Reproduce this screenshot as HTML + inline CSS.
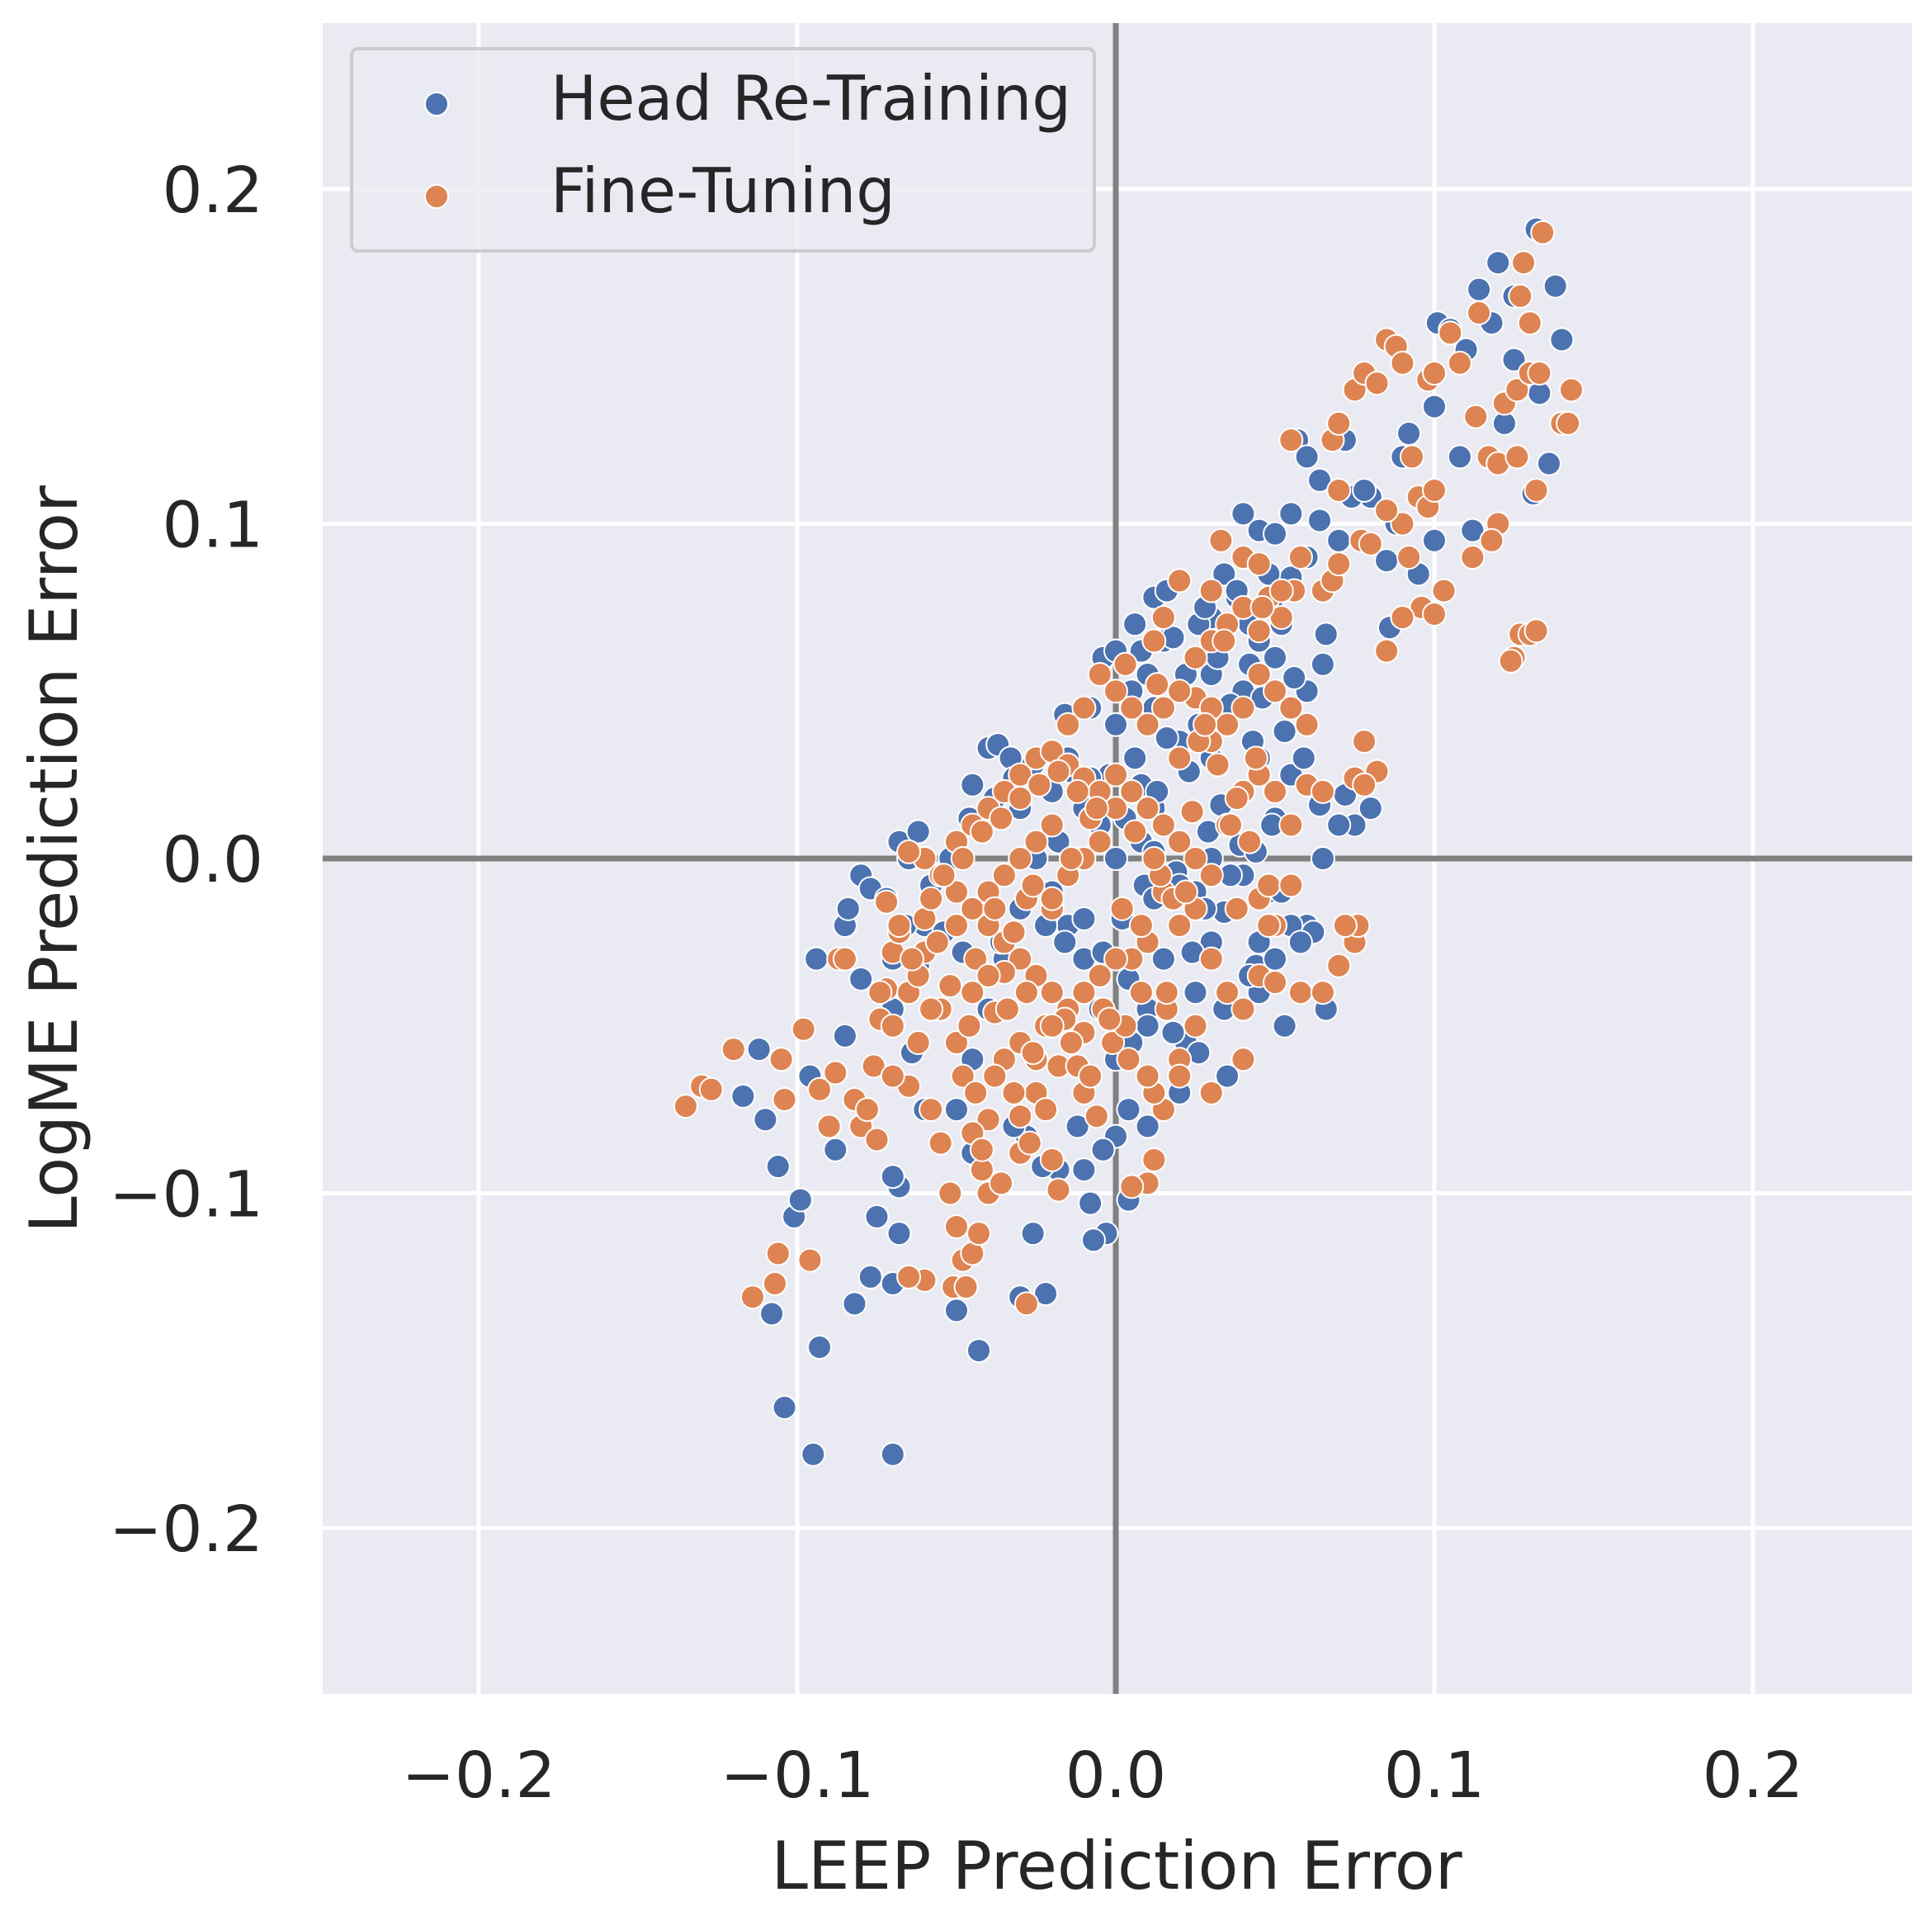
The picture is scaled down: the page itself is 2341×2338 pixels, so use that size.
<!DOCTYPE html>
<html><head><meta charset="utf-8"><style>
html,body{margin:0;padding:0;background:#fff;}
svg{display:block;font-family:"DejaVu Sans","Liberation Sans",sans-serif;}
</style></head><body>
<svg id="chart" width="2341" height="2338" viewBox="0 0 2341 2338" xmlns="http://www.w3.org/2000/svg">
<rect x="391" y="28" width="1926" height="2024" fill="#eaeaf2"/>
<g id="grid"></g>
<g id="zero"></g>
<g id="pts"></g>
<g id="ticks" fill="#262626" font-size="77"></g>
<text x="1353" y="2288" text-anchor="middle" font-size="80" fill="#262626">LEEP Prediction Error</text>
<text transform="translate(93,1041) rotate(-90)" text-anchor="middle" font-size="80" fill="#262626">LogME Prediction Error</text>
<g>
<rect x="426" y="59" width="900" height="245" rx="8" fill="#eaeaf2" fill-opacity="0.8" stroke="#cccccc" stroke-width="4"/>
<circle cx="529" cy="126" r="14" fill="#4c72b0" stroke="#fff" stroke-width="2"/>
<text x="667" y="145" font-size="75" fill="#262626">Head Re-Training</text>
<circle cx="529" cy="238" r="14" fill="#dd8452" stroke="#fff" stroke-width="2"/>
<text x="667" y="257" font-size="75" fill="#262626">Fine-Tuning</text>
</g>
</svg>
<script>
const xTicks=[-0.2,-0.1,0.0,0.1,0.2];
const yTicks=[-0.2,-0.1,0.0,0.1,0.2];
const headX=[-0.07,-0.095,-0.104,-0.093,-0.043,-0.108,-0.082,-0.05,-0.03,-0.022,-0.07,-0.077,-0.026,-0.068,-0.101,-0.099,-0.106,-0.075,-0.068,-0.07,-0.117,-0.11,-0.088,-0.096,-0.085,-0.112,-0.08,-0.094,-0.085,-0.084,-0.08,-0.077,-0.068,-0.062,-0.045,-0.04,-0.037,-0.033,-0.016,-0.004,0.0,0.006,0.012,0.016,0.02,0.03,0.038,0.04,0.04,0.045,0.05,0.055,0.057,0.06,0.064,0.072,0.064,0.08,0.074,0.085,0.09,0.092,0.1,0.101,0.105,0.11,0.114,0.118,0.12,0.125,0.125,0.132,0.138,0.14,0.133,0.131,0.1,0.095,0.112,0.086,0.066,0.065,0.06,0.064,0.072,0.08,0.075,0.065,0.06,0.055,0.048,0.053,0.045,0.035,0.03,0.02,0.01,0.004,0.0,-0.004,0.004,-0.003,-0.007,-0.008,-0.01,-0.018,-0.023,-0.028,-0.032,-0.045,-0.05,-0.06,-0.064,-0.07,-0.07,-0.06,-0.055,-0.05,-0.045,-0.03,-0.02,-0.015,-0.008,0.0,0.005,0.01,0.015,0.02,0.025,0.03,0.035,0.04,0.045,0.05,0.045,0.04,0.035,0.03,0.025,0.02,0.015,0.01,0.005,0.0,-0.005,-0.01,-0.015,-0.02,-0.025,-0.03,-0.035,-0.04,-0.045,-0.012,0.025,0.03,0.045,0.05,0.055,0.06,0.012,0.008,0.0,-0.005,-0.01,-0.018,-0.04,-0.065,0.03,0.02,0.008,-0.002,0.015,0.022,0.04,0.05,0.065,0.062,0.07,0.034,0.026,0.042,0.049,0.055,0.06,0.07,0.078,0.088,0.108,0.122,0.136,
0.008,0.018,0.028,0.038,0.048,0.012,0.022,0.032,0.042,0.052,0.006,0.016,0.026,0.036,0.046,0.056,0.003,0.013,0.023,0.033,0.043,0.053,0.009,0.019,0.029,0.039,0.049,0.059,0.002,0.012,0.024,0.034,0.044,-0.072,-0.066,-0.058,-0.052,-0.046,-0.038,-0.032,-0.026,-0.02,-0.014,-0.008,-0.062,-0.054,-0.048,-0.042,-0.036,-0.028,-0.022,-0.016,-0.01,-0.004,0.004,0.01,0.018,0.026,0.034,0.042,0.05,0.058,0.066,0.012,0.02,0.028,0.036,0.044,0.052];
const headY=[-0.178,-0.178,-0.164,-0.146,-0.147,-0.136,-0.133,-0.135,-0.131,-0.13,-0.127,-0.125,-0.112,-0.112,-0.107,-0.102,-0.092,-0.107,-0.098,-0.095,-0.071,-0.078,-0.087,-0.065,-0.053,-0.057,-0.036,-0.03,-0.02,-0.015,-0.005,-0.009,0.005,0.008,0.022,0.033,0.034,0.03,0.043,0.06,0.062,0.07,0.078,0.08,0.083,0.072,0.078,0.09,0.103,0.098,0.097,0.103,0.125,0.12,0.113,0.125,0.101,0.108,0.108,0.089,0.12,0.127,0.135,0.16,0.158,0.152,0.17,0.16,0.178,0.168,0.149,0.188,0.171,0.155,0.139,0.109,0.095,0.085,0.098,0.069,0.067,0.058,0.04,0.016,0.019,0.015,0.01,0.0,-0.02,-0.02,-0.01,-0.05,-0.04,-0.065,-0.07,-0.07,-0.08,-0.075,-0.083,-0.087,-0.102,-0.112,-0.114,-0.103,-0.093,-0.093,-0.092,-0.083,-0.08,-0.088,-0.075,-0.075,-0.058,-0.045,-0.03,-0.02,-0.005,0.005,0.01,0.015,0.02,0.03,0.045,0.04,0.05,0.055,0.065,0.05,0.06,0.055,0.04,0.05,0.065,0.06,0.03,0.02,0.01,0.0,-0.01,-0.02,-0.03,-0.045,-0.055,-0.06,-0.045,-0.03,-0.02,-0.01,0.0,-0.015,-0.03,-0.045,-0.06,-0.08,-0.04,-0.025,-0.025,0.012,0.025,0.05,0.015,0.005,0.0,0.01,0.015,0.005,-0.02,0.0,0.03,0.035,0.022,0.025,-0.005,-0.055,-0.005,-0.03,-0.04,-0.022,0.01,0.085,0.07,0.07,0.077,0.084,0.09,0.095,0.11,0.1,0.12,0.13,0.118,
0.062,0.066,0.075,0.08,0.085,0.045,0.055,0.06,0.058,0.07,0.03,0.036,0.04,0.046,0.048,0.054,0.012,0.02,0.026,0.016,0.035,0.038,-0.008,-0.004,0.008,0.004,0.01,0.03,-0.018,-0.012,-0.028,-0.016,-0.032,-0.012,-0.02,-0.008,0.0,0.012,0.018,0.024,0.028,0.032,0.026,0.024,-0.032,-0.022,-0.028,-0.015,-0.025,-0.012,-0.02,-0.025,-0.018,-0.028,-0.036,-0.05,-0.052,-0.058,-0.045,-0.035,-0.03,-0.025,-0.045,0.002,-0.008,-0.015,-0.005,0.002,-0.01];
const fineX=[-0.135,-0.13,-0.127,-0.12,-0.114,-0.107,-0.106,-0.104,-0.105,-0.098,-0.096,-0.093,-0.09,-0.088,-0.087,-0.085,-0.082,-0.08,-0.078,-0.075,-0.076,-0.074,-0.072,-0.07,-0.068,-0.065,-0.062,-0.06,-0.06,-0.058,-0.055,-0.052,-0.05,-0.048,-0.051,-0.047,-0.06,-0.065,-0.045,-0.043,-0.04,-0.042,-0.036,-0.03,-0.027,-0.02,-0.018,-0.028,-0.03,-0.04,-0.045,-0.048,-0.035,-0.025,-0.018,-0.012,-0.01,-0.006,-0.001,0.003,0.008,0.016,0.02,0.03,0.04,0.04,0.045,0.05,0.058,0.065,0.07,0.075,0.076,0.072,0.05,0.045,0.048,0.055,0.038,0.03,0.025,0.02,0.015,0.01,0.005,0.0,-0.005,-0.01,0.01,0.005,0.012,0.015,0.012,-0.015,-0.02,-0.025,-0.03,-0.035,-0.04,-0.045,-0.05,-0.055,-0.06,-0.065,-0.05,-0.045,-0.04,-0.035,-0.03,-0.025,-0.02,-0.015,-0.01,-0.005,0.0,0.005,0.01,0.015,0.02,0.025,0.03,0.035,0.04,0.045,0.05,0.055,0.06,0.06,0.065,0.075,0.078,0.082,0.078,0.055,0.05,0.045,0.04,0.035,0.03,0.025,0.02,0.015,0.01,0.005,0.0,-0.005,-0.01,-0.015,-0.02,-0.025,-0.03,-0.035,-0.04,0.003,0.012,0.015,0.02,0.013,0.03,0.033,0.04,0.045,0.048,0.052,0.056,0.058,0.055,0.065,0.068,0.07,0.07,0.068,0.07,0.075,0.078,0.082,0.085,0.088,0.09,0.077,0.08,0.09,0.085,0.092,0.095,0.098,0.1,0.093,0.096,0.1,0.103,0.09,0.085,0.098,0.1,0.105,0.108,0.114,0.113,0.117,0.12,0.126,0.122,0.126,0.128,0.127,0.13,0.13,0.133,0.134,0.14,0.142,0.143,0.132,0.12,0.118,0.112,0.125,0.124,0.127,0.13,0.132,-0.045,-0.05,-0.055,-0.065,-0.07,-0.07,-0.072,-0.058,-0.042,-0.038,-0.03,-0.025,-0.022,-0.035,-0.028,-0.02,-0.015,-0.01,-0.005,0.0,0.025,0.03,0.035,0.04,0.045,0.035,0.025,0.02,
-0.062,-0.056,-0.05,-0.044,-0.038,-0.032,-0.026,-0.02,-0.014,-0.008,-0.058,-0.052,-0.046,-0.04,-0.034,-0.028,-0.022,-0.016,-0.01,-0.004,-0.054,-0.048,-0.042,-0.036,-0.03,-0.024,-0.018,-0.012,-0.006,0.002,0.008,0.014,0.02,0.026,0.032,0.038,0.044,0.006,0.012,0.018,0.024,0.03,0.036,0.042,0.048,-0.068,-0.064,-0.074,-0.044,-0.038,-0.032,-0.026,-0.02,-0.014,-0.008,-0.002,0.004,0.01,0.016,0.022,0.028,0.034,0.046,0.052];
const fineY=[-0.074,-0.068,-0.069,-0.057,-0.131,-0.127,-0.118,-0.072,-0.06,-0.051,-0.12,-0.069,-0.08,-0.064,-0.03,-0.03,-0.072,-0.08,-0.075,-0.084,-0.062,-0.048,-0.039,-0.028,-0.022,-0.068,-0.055,-0.028,-0.018,-0.012,-0.085,-0.1,-0.11,-0.12,-0.128,-0.128,-0.126,-0.125,-0.118,-0.112,-0.1,-0.093,-0.097,-0.088,-0.085,-0.09,-0.099,-0.133,-0.077,-0.078,-0.082,-0.065,-0.06,-0.06,-0.062,-0.062,-0.07,-0.077,-0.055,-0.05,-0.04,-0.045,-0.06,-0.07,-0.06,-0.045,-0.035,-0.037,-0.04,-0.04,-0.032,-0.025,-0.02,-0.02,-0.02,-0.012,-0.008,-0.008,-0.015,-0.03,-0.015,-0.02,-0.01,-0.025,-0.03,-0.03,-0.035,-0.04,-0.097,-0.098,-0.09,-0.075,-0.07,-0.045,-0.04,-0.035,-0.03,-0.025,-0.02,-0.015,-0.01,-0.005,0.0,0.002,0.005,0.01,0.015,0.02,0.025,0.03,0.032,0.028,0.024,0.02,0.025,0.02,0.015,0.01,0.005,0.0,-0.005,0.01,0.02,0.025,0.02,0.01,0.022,0.04,0.02,0.024,0.035,0.026,0.022,0.045,0.05,0.055,0.045,0.04,0.035,0.048,0.05,0.045,0.04,0.045,0.05,0.055,0.045,0.04,0.01,0.005,0.0,-0.005,-0.01,0.058,0.065,0.072,0.083,0.052,0.08,0.095,0.09,0.088,0.078,0.072,0.08,0.09,0.125,0.08,0.083,0.088,0.11,0.125,0.13,0.14,0.145,0.142,0.155,0.153,0.148,0.095,0.094,0.1,0.104,0.09,0.108,0.105,0.11,0.12,0.075,0.073,0.08,0.072,0.062,0.143,0.145,0.157,0.148,0.163,0.132,0.12,0.118,0.12,0.136,0.14,0.178,0.168,0.16,0.145,0.145,0.187,0.13,0.13,0.14,0.11,0.1,0.095,0.09,0.06,0.059,0.067,0.067,0.068,-0.04,-0.055,-0.045,-0.04,-0.065,-0.05,-0.013,-0.075,-0.087,-0.046,-0.055,-0.07,-0.075,-0.034,-0.012,-0.015,-0.005,0.0,0.005,0.015,0.06,0.065,0.07,0.075,0.068,-0.04,-0.05,-0.065,
-0.035,-0.025,-0.02,-0.03,-0.015,-0.022,-0.008,-0.012,0.0,0.012,-0.045,-0.038,-0.05,-0.035,-0.045,-0.04,-0.05,-0.048,-0.052,-0.045,-0.005,0.0,0.008,0.012,0.018,0.022,0.026,0.02,0.015,-0.015,-0.02,-0.005,0.03,0.035,0.028,0.018,0.03,0.008,0.0,-0.012,0.014,0.045,0.01,0.005,-0.02,-0.02,-0.03,-0.04,-0.07,-0.065,-0.07,-0.058,-0.05,-0.055,-0.065,-0.048,-0.06,-0.065,-0.04,-0.01,0.04,0.065,0.075,0.08];

const NS='http://www.w3.org/2000/svg';
const L=391,R=2317,T=28,B=2052;
const sx=v=>1352+v*3860;
const sy=v=>1040-v*4055;
function mk(tag,attrs,parent){const e=document.createElementNS(NS,tag);for(const k in attrs)e.setAttribute(k,attrs[k]);parent.appendChild(e);return e;}
const grid=document.getElementById('grid'),ticks=document.getElementById('ticks'),zero=document.getElementById('zero'),pts=document.getElementById('pts');
const fmt=v=>(v<0?'\u2212':'')+Math.abs(v).toFixed(1);
xTicks.forEach(v=>{
  const l=mk('line',{x1:sx(v),x2:sx(v),y1:T,y2:B,stroke:'#fff','stroke-width':5},grid);
  
  
  const t=mk('text',{x:sx(v),y:2177,'text-anchor':'middle'},ticks);t.textContent=fmt(v);
  
  
});
yTicks.forEach(v=>{
  const l=mk('line',{x1:L,x2:R,y1:sy(v),y2:sy(v),stroke:'#fff','stroke-width':5},grid);
  
  
  const t=mk('text',{x:319,y:sy(v)+28,'text-anchor':'end'},ticks);t.textContent=fmt(v);
  
  
});
const zv=mk('line',{x1:sx(0),x2:sx(0),y1:T,y2:B,stroke:'#808080','stroke-width':7},zero);


const zh=mk('line',{x1:L,x2:R,y1:sy(0),y2:sy(0),stroke:'#808080','stroke-width':7},zero);


function series(xs,ys,col,name){
  xs.forEach((x,i)=>{
    const c=mk('circle',{cx:sx(x),cy:sy(ys[i]),r:14,fill:col,stroke:'#fff','stroke-width':2},pts);
    
    
  });
}
series(headX,headY,'#4c72b0','head-retraining-point');
series(fineX,fineY,'#dd8452','fine-tuning-point');
</script>
</body></html>
